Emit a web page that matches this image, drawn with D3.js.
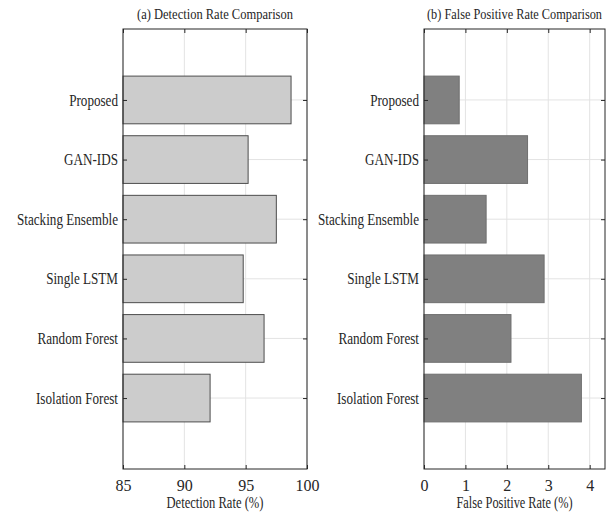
<!DOCTYPE html>
<html>
<head>
<meta charset="utf-8">
<script src="https://cdn.jsdelivr.net/npm/d3@7"></script>
</head>
<body style="margin:0">
<div id="chart"></div>
<script>
// methods, top to bottom
const methods = ["Proposed", "GAN-IDS", "Stacking Ensemble", "Single LSTM", "Random Forest", "Isolation Forest"];
const detectionRate = [98.7, 95.2, 97.5, 94.8, 96.5, 92.1];
const falsePositiveRate = [0.85, 2.5, 1.5, 2.9, 2.1, 3.8];
const detTicks = [85, 90, 95, 100];
const fprTicks = [0, 1, 2, 3, 4];

const W = 613, H = 512;
const svg = d3.select("#chart").append("svg")
    .attr("width", W)
    .attr("height", H);

function label(sel, size) {
    sel.attr("fill", "#262626")
        .style("font-family", "'Liberation Serif'")
        .style("font-size", size + "px");
}

// squeeze a text if it is wider than the room it has
function fit(sel, maxW) {
    sel.each(function () {
        if (this.getComputedTextLength() > maxW) {
            d3.select(this).attr("textLength", maxW).attr("lengthAdjust", "spacingAndGlyphs");
        }
    });
}

function drawPanel(opts) {
    let g = svg.append("g");
    let top = 29, bottom = 469;

    let x = d3.scaleLinear().domain(opts.xDomain).range([opts.left, opts.right]);
    let y = d3.scalePoint().domain(methods).range([top, bottom]).padding(1.19);
    let bh = y.step() * 0.8;

    // grid
    g.selectAll(".vgrid").data(opts.ticks).enter().append("line")
        .attr("x1", d => x(d)).attr("x2", d => x(d))
        .attr("y1", top).attr("y2", bottom)
        .attr("stroke", "#e3e3e3").attr("stroke-width", 1);
    g.selectAll(".hgrid").data(methods).enter().append("line")
        .attr("x1", opts.left).attr("x2", opts.right)
        .attr("y1", d => y(d)).attr("y2", d => y(d))
        .attr("stroke", "#e3e3e3").attr("stroke-width", 1);

    // bars
    g.selectAll(".bar").data(opts.values).enter().append("rect")
        .attr("x", x(opts.xDomain[0]))
        .attr("y", (d, i) => y(methods[i]) - bh / 2)
        .attr("width", d => x(d) - x(opts.xDomain[0]))
        .attr("height", bh)
        .attr("fill", opts.fill)
        .attr("stroke", opts.stroke)
        .attr("stroke-width", 1);

    // axes (ticks pointing inward like matlab)
    let xAxis = d3.axisBottom(x).tickValues(opts.ticks).tickSize(-4).tickPadding(11).tickFormat(d3.format("d"));
    let xg = g.append("g").attr("transform", "translate(0," + bottom + ")").call(xAxis);
    let xTop = d3.axisTop(x).tickValues(opts.ticks).tickSize(-4).tickFormat("");
    let tg = g.append("g").attr("transform", "translate(0," + top + ")").call(xTop);
    let yAxis = d3.axisLeft(y).tickSize(-4).tickPadding(5);
    let yg = g.append("g").attr("transform", "translate(" + opts.left + ",0)").call(yAxis);
    let yRight = d3.axisRight(y).tickSize(-4).tickFormat("");
    let rg = g.append("g").attr("transform", "translate(" + opts.right + ",0)").call(yRight);

    [xg, tg, yg, rg].forEach(a => {
        a.attr("font-family", null).attr("font-size", null);
        a.select(".domain").remove();
        a.selectAll(".tick line").attr("stroke", "#262626");
        a.selectAll("text").call(label, 16);
    });

    // keep the category labels in proportion: widest one gets ~101px
    let widths = [];
    yg.selectAll("text").each(function () { widths.push(this.getComputedTextLength()); });
    let k = Math.min(1, 101 / d3.max(widths));
    if (k < 1) {
        yg.selectAll("text").each(function (d, i) {
            d3.select(this).attr("textLength", widths[i] * k).attr("lengthAdjust", "spacingAndGlyphs");
        });
    }

    // box
    g.append("rect")
        .attr("x", opts.left).attr("y", top)
        .attr("width", opts.right - opts.left).attr("height", bottom - top)
        .attr("fill", "none").attr("stroke", "#262626").attr("stroke-width", 1);

    // title and x label
    g.append("text")
        .attr("x", (opts.left + opts.right) / 2).attr("y", 19)
        .attr("text-anchor", "middle")
        .call(label, 15.5)
        .text(opts.title)
        .call(fit, opts.titleW);
    g.append("text")
        .attr("x", (opts.left + opts.right) / 2).attr("y", 508)
        .attr("text-anchor", "middle")
        .call(label, 16)
        .text(opts.xLabel)
        .call(fit, opts.labelW);
}

drawPanel({
    left: 123, right: 307,
    xDomain: [85, 100], ticks: detTicks, values: detectionRate,
    fill: "#cccccc", stroke: "#4d4d4d",
    title: "(a) Detection Rate Comparison", xLabel: "Detection Rate (%)",
    titleW: 156, labelW: 97
});

drawPanel({
    left: 424, right: 605,
    xDomain: [0, 4.37], ticks: fprTicks, values: falsePositiveRate,
    fill: "#808080", stroke: "#6f6f6f",
    title: "(b) False Positive Rate Comparison", xLabel: "False Positive Rate (%)",
    titleW: 175, labelW: 116
});
</script>
</body>
</html>
